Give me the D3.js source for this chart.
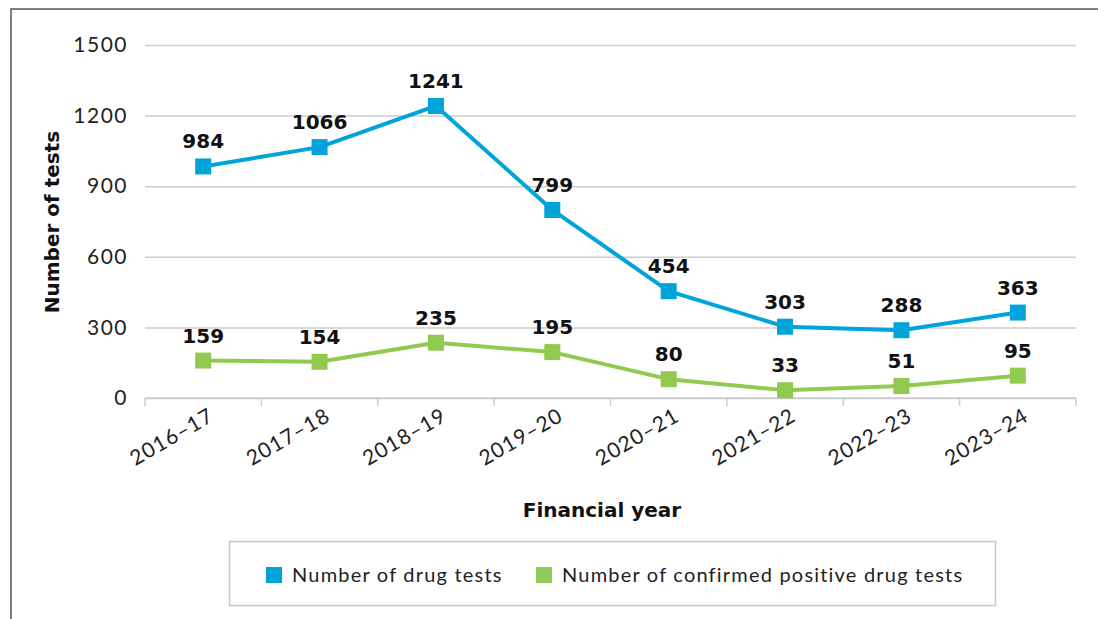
<!DOCTYPE html>
<html>
<head>
<meta charset="utf-8">
<script src="https://cdn.jsdelivr.net/npm/d3@7"></script>
<style>
  html, body { margin: 0; padding: 0; background: #fff; }
  svg { display: block; font-family: Lato, "Noto Sans", sans-serif; }
</style>
</head>
<body>
<svg id="chart" width="1098" height="619"></svg>
<script>
// Drug testing by financial year
const years = ["2016\u201317", "2017\u201318", "2018\u201319", "2019\u201320", "2020\u201321", "2021\u201322", "2022\u201323", "2023\u201324"];
const drugTests = [984, 1066, 1241, 799, 454, 303, 288, 363];
const positiveTests = [159, 154, 235, 195, 80, 33, 51, 95];
const yTicks = [0, 300, 600, 900, 1200, 1500];
const seriesNames = ["Number of drug tests", "Number of confirmed positive drug tests"];
const seriesColors = ["#00a3da", "#92c94f"];

const regularFont = "Lato, 'Noto Sans', sans-serif";
const boldFont = "'DejaVu Sans', Lato, sans-serif";

const svg = d3.select("#chart");
const W = 1098, H = 619;
const plot = { left: 145, right: 1076, top: 45, bottom: 398 };

// outer frame (top and left edges)
svg.append("path")
  .attr("d", `M11,${H} V9 H${W}`)
  .attr("fill", "none").attr("stroke", "#555").attr("stroke-width", 1.5);

const x = d3.scaleBand().domain(years).range([plot.left, plot.right]);
const y = d3.scaleLinear().domain([0, 1500]).range([plot.bottom, plot.top]);

// horizontal gridlines + y tick labels
const yAxis = svg.append("g")
  .attr("transform", `translate(${plot.left},0)`)
  .call(d3.axisLeft(y).tickValues(yTicks).tickFormat(d3.format("d"))
    .tickSize(-(plot.right - plot.left)).tickPadding(17));
yAxis.select(".domain").remove();
yAxis.selectAll(".tick line").attr("stroke", "#cccccc").attr("stroke-width", 1.5);
yAxis.selectAll(".tick text")
  .attr("font-size", 21).attr("fill", "#222").attr("font-family", regularFont)
  .attr("letter-spacing", 1.5);

// category axis with boundary ticks
const xAxisG = svg.append("g").attr("transform", `translate(0,${plot.bottom})`);
xAxisG.append("line")
  .attr("x1", plot.left).attr("x2", plot.right)
  .attr("stroke", "#cccccc").attr("stroke-width", 1.5);
const bounds = years.map(d => x(d)).concat([x(years[years.length - 1]) + x.bandwidth()]);
xAxisG.selectAll("line.bt").data(bounds).join("line")
  .attr("class", "bt")
  .attr("x1", d => d).attr("x2", d => d).attr("y1", 0).attr("y2", 8)
  .attr("stroke", "#cccccc").attr("stroke-width", 1.5);
xAxisG.selectAll("text.cat").data(years).join("text")
  .attr("class", "cat")
  .attr("transform", d => `translate(${x(d) + x.bandwidth() / 2 + 12},${22}) rotate(-30)`)
  .attr("text-anchor", "end")
  .attr("font-size", 21).attr("fill", "#222").attr("letter-spacing", 1)
  .text(d => d);

// axis titles
svg.append("text")
  .attr("transform", `translate(59,222) rotate(-90)`)
  .attr("text-anchor", "middle")
  .attr("font-family", boldFont)
  .attr("font-size", 20).attr("font-weight", "bold").attr("fill", "#111")
  .text("Number of tests");
svg.append("text")
  .attr("x", 602).attr("y", 517)
  .attr("text-anchor", "middle")
  .attr("font-family", boldFont)
  .attr("font-size", 20).attr("font-weight", "bold").attr("fill", "#111")
  .text("Financial year");

// series
const series = [drugTests, positiveTests];
const line = d3.line()
  .x((d, i) => x(years[i]) + x.bandwidth() / 2)
  .y(d => y(d));

series.forEach((vals, s) => {
  const g = svg.append("g");
  g.append("path")
    .datum(vals)
    .attr("d", line)
    .attr("fill", "none")
    .attr("stroke", seriesColors[s])
    .attr("stroke-width", 4)
    .attr("stroke-linejoin", "round");
  g.selectAll("rect").data(vals).join("rect")
    .attr("x", (d, i) => x(years[i]) + x.bandwidth() / 2 - 8)
    .attr("y", d => y(d) - 8)
    .attr("width", 16).attr("height", 16)
    .attr("fill", seriesColors[s]);
  g.selectAll("text").data(vals).join("text")
    .attr("x", (d, i) => x(years[i]) + x.bandwidth() / 2)
    .attr("y", d => y(d) - 18)
    .attr("text-anchor", "middle")
    .attr("font-family", boldFont)
    .attr("font-size", 20).attr("font-weight", "bold").attr("fill", "#111")
    .text(d => d);
});

// legend
const lg = svg.append("g");
lg.append("rect")
  .attr("x", 229.5).attr("y", 541.5).attr("width", 766).attr("height", 64)
  .attr("fill", "#fff").attr("stroke", "#c8c8c8").attr("stroke-width", 1.5);
const legendX = [266, 536];
seriesNames.forEach((name, s) => {
  lg.append("rect")
    .attr("x", legendX[s]).attr("y", 567).attr("width", 16).attr("height", 16)
    .attr("fill", seriesColors[s]);
  lg.append("text")
    .attr("x", legendX[s] + 26).attr("y", 582)
    .attr("font-size", 20).attr("fill", "#222").attr("letter-spacing", 1.2)
    .text(name);
});
</script>
</body>
</html>
